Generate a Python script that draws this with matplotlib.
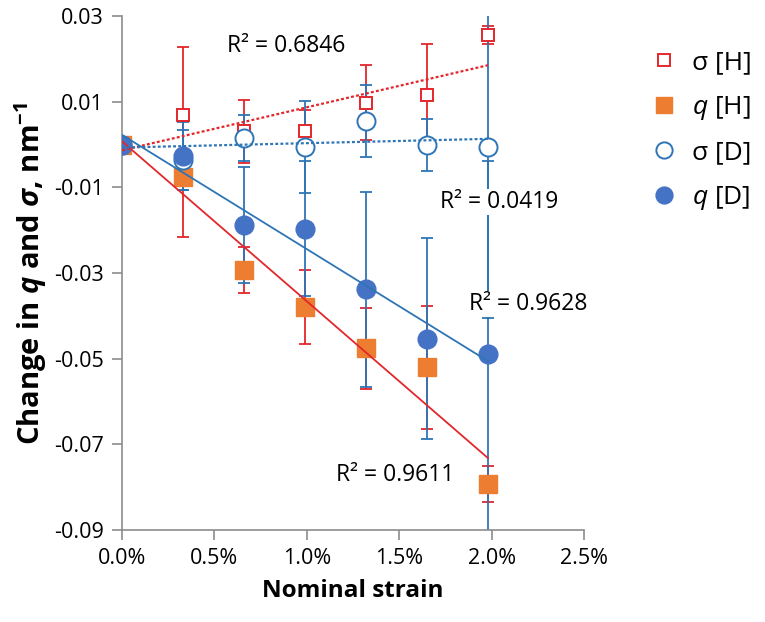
import numpy as np
import matplotlib
matplotlib.use('Agg')
import matplotlib.pyplot as plt

# Nominal strain in percent
strain = [0, 0.33, 0.66, 0.99, 1.32, 1.65, 1.98]

# sigma [H]
sigma_h = [0, 0.0070, 0.0031, 0.0032, 0.0098, 0.0116, 0.0256]
sigma_h_err = [0, 0.0158, 0.0073, 0.0048, 0.0088, 0.0120, 0.0020]
# q [H]
q_h = [0, -0.0075, -0.0293, -0.0379, -0.0476, -0.0520, -0.0793]
q_h_err = [0, 0.0141, 0.0054, 0.0087, 0.0094, 0.0144, 0.0042]
# sigma [D]
sigma_d = [0, -0.0036, 0.0015, -0.0005, 0.0055, -0.0001, -0.0005]
sigma_d_err = [0, 0.0070, 0.0054, 0.0107, 0.0084, 0.0060, 0.0400]
# q [D]
q_d = [0, -0.0027, -0.0188, -0.0196, -0.0338, -0.0453, -0.0488]
q_d_err = [0, 0.0080, 0.0135, 0.0157, 0.0228, 0.0234, 0.0450]

r2_labels = ['R\u00b2 = 0.6846', 'R\u00b2 = 0.0419', 'R\u00b2 = 0.9628', 'R\u00b2 = 0.9611']

xticks = [0, 0.5, 1.0, 1.5, 2.0, 2.5]
xtick_labels = ['0.0%', '0.5%', '1.0%', '1.5%', '2.0%', '2.5%']
yticks = [-0.09, -0.07, -0.05, -0.03, -0.01, 0.01, 0.03]
ytick_labels = ['-0.09', '-0.07', '-0.05', '-0.03', '-0.01', '0.01', '0.03']

RED = '#E3262B'
ORANGE = '#ED7D31'
BLUE = '#2E75B6'
BLUE_FILL = '#4472C4'
GREY = '#8C8C8C'

plt.rcParams['font.family'] = ['Open Sans', 'DejaVu Sans']
plt.rcParams['mathtext.fontset'] = 'custom'
plt.rcParams['mathtext.rm'] = 'Open Sans'
plt.rcParams['mathtext.it'] = 'Open Sans:italic'
plt.rcParams['mathtext.bf'] = 'Open Sans:bold'
plt.rcParams['mathtext.bfit'] = 'Open Sans:bold:italic'

fig = plt.figure(figsize=(7.65, 6.22), dpi=100)
ax = fig.add_axes([0.1595, 0.148, 0.604, 0.826])

x = np.array(strain)

# error bars
ebkw = dict(fmt='none', capsize=4.5, elinewidth=1.3, capthick=1.3, zorder=2)
ax.errorbar(x, sigma_h, yerr=sigma_h_err, ecolor=RED, **ebkw)
ax.errorbar(x, q_h, yerr=q_h_err, ecolor=RED, **ebkw)
ax.errorbar(x, sigma_d, yerr=sigma_d_err, ecolor=BLUE, **ebkw)
ax.errorbar(x, q_d, yerr=q_d_err, ecolor=BLUE, **ebkw)

# markers
h1, = ax.plot(x, sigma_h, 's', ms=9, mfc='white', mec=RED, mew=1.4, zorder=3, label='\u03c3 [H]')
h2, = ax.plot(x, q_h, 's', ms=13, mfc=ORANGE, mec=ORANGE, zorder=3, label=r'$q$ [H]')
h3, = ax.plot(x, sigma_d, 'o', ms=13, mfc='white', mec=BLUE, mew=1.4, zorder=3, label='\u03c3 [D]')
h4, = ax.plot(x, q_d, 'o', ms=13.5, mfc=BLUE_FILL, mec=BLUE_FILL, zorder=3, label=r'$q$ [D]')

# linear trend lines
xx = np.array([x[0], x[-1]])
for ys, col, ls in [(sigma_h, RED, (0, (1.3, 1.0))), (q_h, RED, '-'),
                    (sigma_d, BLUE, (0, (1.3, 1.0))), (q_d, BLUE, '-')]:
    k, b = np.polyfit(x, ys, 1)
    lw = 1.6 if ls != '-' else 1.3
    ax.plot(xx, k * xx + b, color=col, ls=ls, lw=lw, zorder=4)

# R^2 labels
tkw = dict(fontsize=16.5, ha='left', va='center', zorder=5,
           bbox=dict(facecolor='white', edgecolor='none', pad=1))
ax.text(0.57, 0.0230, r2_labels[0], **tkw)
ax.text(1.72, -0.0134, r2_labels[1], **tkw)
ax.text(1.88, -0.0372, r2_labels[2], **tkw)
ax.text(1.16, -0.0772, r2_labels[3], **tkw)

ax.set_xlim(0, 2.5)
ax.set_ylim(-0.09, 0.03)
ax.set_xticks(xticks)
ax.set_xticklabels(xtick_labels)
ax.set_yticks(yticks)
ax.set_yticklabels(ytick_labels)
ax.tick_params(axis='both', direction='out', length=7, width=1.2, color=GREY,
               labelsize=15.5, pad=6)

for s in ['top', 'right']:
    ax.spines[s].set_visible(False)
for s in ['left', 'bottom']:
    ax.spines[s].set_color(GREY)
    ax.spines[s].set_linewidth(1.2)

ax.set_xlabel('Nominal strain', fontsize=17.5, fontweight='bold', labelpad=7)
ax.set_ylabel(r'Change in $\mathbfit{q}$ and $\mathbfit{\sigma}$, nm$^{\mathbf{-1}}$',
              fontsize=21, fontweight='bold', labelpad=4)

fig.legend(handles=[h1, h2, h3, h4], loc='upper left', bbox_to_anchor=(0.82, 0.957),
           frameon=False, fontsize=19, labelspacing=0.7, handlelength=1.0,
           handletextpad=0.55, markerscale=0.9, borderpad=0.4)

fig.savefig('out.png', dpi=100)
